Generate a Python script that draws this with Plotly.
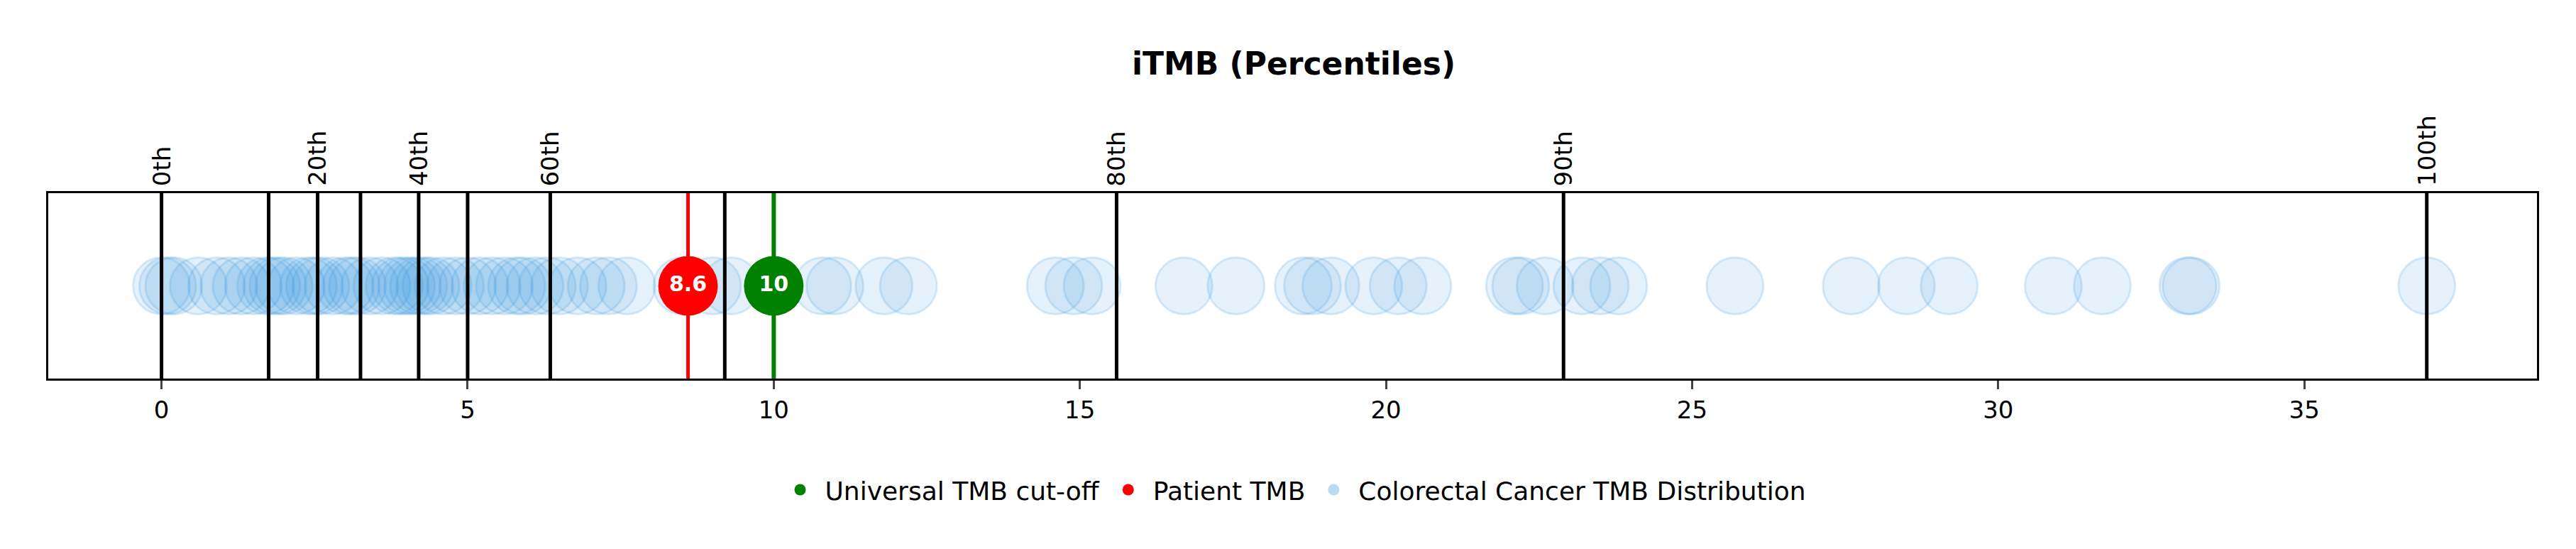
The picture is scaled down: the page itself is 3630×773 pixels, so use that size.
import plotly.graph_objects as go

tmb_values = [0, 0.1, 0.2, 0.6, 0.9, 1.1, 1.3, 1.5, 1.7, 1.8, 1.9, 2.0, 2.2, 2.4, 2.5, 2.6, 2.8, 3.0,
              3.1, 3.2, 3.4, 3.6, 3.8, 3.9, 4.0, 4.1, 4.2, 4.3, 4.4, 4.6, 4.8, 5.0, 5.2, 5.4, 5.6,
              5.8, 5.9, 6.1, 6.3, 6.5, 6.8, 7.1, 7.3, 7.6, 8.5, 9.0, 9.3, 10.8, 11.0, 11.8, 12.2,
              14.6, 14.9, 15.2, 16.7, 17.55, 18.65, 18.8, 19.1, 19.8, 20.2, 20.6, 22.1, 22.2, 22.6,
              23.2, 23.5, 23.8, 25.7, 27.6, 28.5, 29.2, 30.9, 31.7, 33.1, 33.15, 37.0]
percentile_values = [0, 1.75, 2.55, 3.25, 4.2, 5.0, 6.35, 9.2, 15.6, 22.9, 37.0]
percentile_labels = ["0th", "", "20th", "", "40th", "", "60th", "", "80th", "90th", "100th"]
patient_tmb = 8.6
cutoff_tmb = 10

fig = go.Figure()
fig.add_trace(go.Scatter(
    x=tmb_values, y=[0] * len(tmb_values), mode="markers",
    marker=dict(size=80, color="rgba(52,152,219,0.12)", line=dict(color="rgba(52,152,219,0.18)", width=3)),
    name="Colorectal Cancer TMB Distribution", showlegend=False))

shapes = []
annotations = []
for v, lab in zip(percentile_values, percentile_labels):
    shapes.append(dict(type="line", xref="x", yref="paper", x0=v, x1=v, y0=0, y1=1,
                       line=dict(color="black", width=5), layer="above"))
    if lab:
        annotations.append(dict(x=v, y=1.03, xref="x", yref="paper", text=lab, showarrow=False,
                                textangle=-90, xanchor="center", yanchor="bottom",
                                font=dict(size=34, color="black")))
shapes.append(dict(type="line", xref="x", yref="paper", x0=patient_tmb, x1=patient_tmb, y0=0, y1=1,
                   line=dict(color="red", width=5), layer="below"))
shapes.append(dict(type="line", xref="x", yref="paper", x0=cutoff_tmb, x1=cutoff_tmb, y0=0, y1=1,
                   line=dict(color="green", width=6), layer="below"))

fig.add_trace(go.Scatter(x=[patient_tmb], y=[0], mode="markers+text", text=["<b>%s</b>" % patient_tmb],
                         textfont=dict(color="white", size=30, family="DejaVu Sans"),
                         marker=dict(size=84, color="red"), showlegend=False))
fig.add_trace(go.Scatter(x=[cutoff_tmb], y=[0], mode="markers+text", text=["<b>%s</b>" % cutoff_tmb],
                         textfont=dict(color="white", size=30, family="DejaVu Sans"),
                         marker=dict(size=84, color="green"), showlegend=False))

for name, col in [("Universal TMB cut-off", "green"), ("Patient TMB", "red"),
                  ("Colorectal Cancer TMB Distribution", "rgba(52,152,219,0.35)")]:
    fig.add_trace(go.Scatter(x=[None], y=[None], mode="markers", name=name,
                             marker=dict(size=40, color=col)))

fig.update_layout(
    width=3630, height=773, paper_bgcolor="white", plot_bgcolor="white",
    margin=dict(l=60, r=63, t=264, b=248),
    title=dict(text="<b>iTMB (Percentiles)</b>", x=0.5, xanchor="center", y=0.895, yanchor="middle",
               font=dict(size=44, color="black", family="DejaVu Sans")),
    font=dict(family="DejaVu Sans", size=34, color="black"),
    shapes=shapes, annotations=annotations,
    legend=dict(orientation="h", x=0.5, xanchor="center", y=-0.6, yanchor="middle",
                font=dict(size=36), itemsizing="trace", itemwidth=60, tracegroupgap=60),
    xaxis=dict(range=[-1.85, 38.8], tickvals=[0, 5, 10, 15, 20, 25, 30, 35], showgrid=False,
               zeroline=False, showline=True, mirror=True, linecolor="black", linewidth=3,
               ticks="outside", ticklen=12, tickwidth=3, tickfont=dict(size=34)),
    yaxis=dict(range=[-1, 1], showticklabels=False, showgrid=False, zeroline=False,
               showline=True, mirror=True, linecolor="black", linewidth=3, ticks=""),
)
fig.write_html("out.html")
